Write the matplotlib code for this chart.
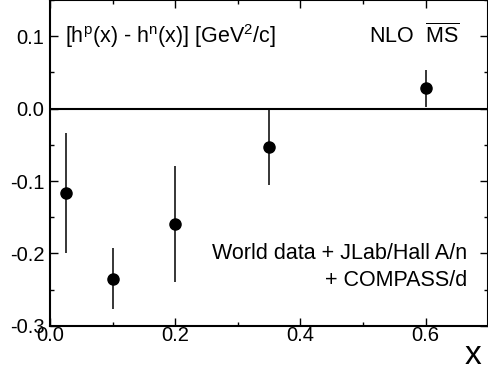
import matplotlib
matplotlib.use('Agg')
import matplotlib.pyplot as plt
from matplotlib.ticker import MultipleLocator

plt.rcParams['font.family'] = ['Liberation Sans', 'DejaVu Sans']
plt.rcParams['mathtext.fontset'] = 'custom'
plt.rcParams['mathtext.rm'] = 'Liberation Sans'
plt.rcParams['mathtext.it'] = 'Liberation Sans'

# h^p - h^n points
x_vals = [0.025, 0.1, 0.2, 0.35, 0.6]
h_diff = [-0.117, -0.235, -0.159, -0.053, 0.028]
h_err = [0.083, 0.042, 0.080, 0.052, 0.026]

fig = plt.figure(figsize=(4.89, 3.72), dpi=100)
ax = fig.add_axes([0.1022, 0.124, 0.896, 0.876])

ax.axhline(0, color='black', lw=1.5, zorder=1)
ax.errorbar(x_vals, h_diff, yerr=h_err, fmt='o', color='black',
            markersize=8, elinewidth=1.1, capsize=0, zorder=3)

ax.set_xlim(0, 0.7)
ax.set_ylim(-0.3, 0.15)
ax.xaxis.set_major_locator(MultipleLocator(0.2))
ax.xaxis.set_minor_locator(MultipleLocator(0.1))
ax.yaxis.set_major_locator(MultipleLocator(0.1))
ax.yaxis.set_minor_locator(MultipleLocator(0.05))
ax.xaxis.set_major_formatter(plt.FuncFormatter(lambda v, p: '%.1f' % v))
ax.yaxis.set_major_formatter(plt.FuncFormatter(lambda v, p: '%.1f' % v))
ax.tick_params(which='both', direction='in', top=True, right=True,
               labelsize=14.5, width=1.0)
ax.tick_params(axis='x', pad=0)
ax.tick_params(axis='y', pad=4)
ax.tick_params(which='major', length=6)
ax.tick_params(which='minor', length=3)
for s in ax.spines.values():
    s.set_linewidth(1.5)

ax.text(0.024, 0.1, r'[h$^\mathrm{p}$(x) - h$^\mathrm{n}$(x)] [GeV$^\mathrm{2}$/c]',
        fontsize=15.5, va='center', ha='left')
ax.text(0.654, 0.1, r'NLO  $\overline{\mathrm{MS}}$', fontsize=15.5,
        va='center', ha='right')
ax.text(0.667, -0.2, 'World data + JLab/Hall A/n', fontsize=15.5,
        va='center', ha='right')
ax.text(0.667, -0.237, '+ COMPASS/d', fontsize=15.5, va='center', ha='right')

fig.text(0.967, 0.003, 'x', fontsize=24, ha='center', va='bottom')

fig.savefig('out.png', dpi=100)
